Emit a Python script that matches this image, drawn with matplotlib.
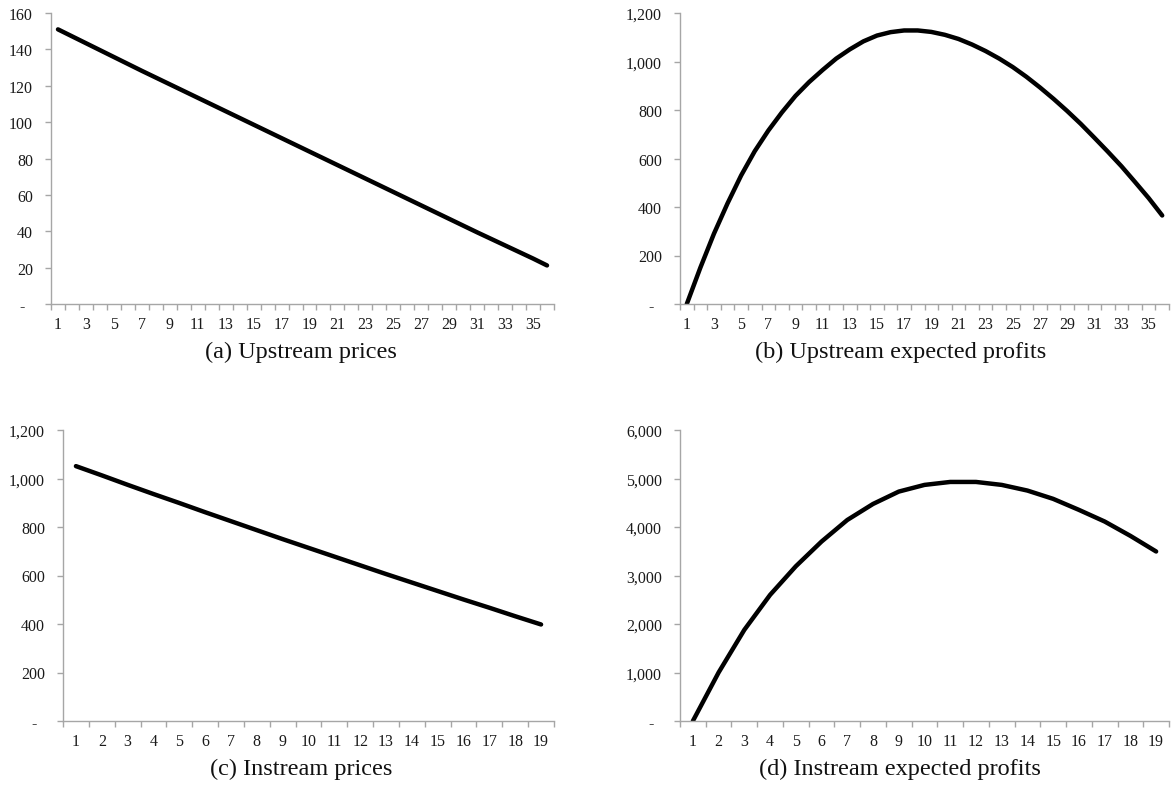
import numpy as np
import matplotlib
matplotlib.use("Agg")
import matplotlib.pyplot as plt
from matplotlib.ticker import FixedLocator, FuncFormatter

# ---------------- data ----------------
upstream_periods = list(range(1, 37))
upstream_prices = [151.0, 147.2, 143.4, 139.6, 135.8, 132.0, 128.2, 124.5, 120.8,
                   117.1, 113.4, 109.7, 106.0, 102.3, 98.6, 94.9, 91.2, 87.5,
                   83.8, 80.1, 76.4, 72.7, 69.0, 65.3, 61.6, 57.9, 54.2, 50.5,
                   46.8, 43.1, 39.4, 35.8, 32.2, 28.6, 25.0, 21.2]
upstream_profits = [0, 150, 290, 415, 530, 630, 715, 790, 858, 915, 965, 1012,
                    1050, 1083, 1107, 1121, 1128, 1128, 1122, 1110, 1093, 1070,
                    1043, 1012, 977, 937, 893, 846, 796, 743, 686, 628, 568,
                    503, 437, 365]

instream_periods = list(range(1, 20))
instream_prices = [1051, 1013, 974, 936, 899, 861, 824, 787, 750, 714, 678, 642,
                   606, 571, 536, 501, 467, 432, 398]
instream_profits = [0, 1000, 1880, 2600, 3190, 3700, 4145, 4475, 4730, 4868,
                    4929, 4929, 4868, 4751, 4580, 4353, 4113, 3817, 3495]

captions = ["(a) Upstream prices", "(b) Upstream expected profits",
            "(c) Instream prices", "(d) Instream expected profits"]

# ---------------- layout ----------------
W, H = 1172, 803
fig = plt.figure(figsize=(W / 100, H / 100), dpi=100)

def ax_at(left, right, top, bottom):
    return fig.add_axes([left / W, 1 - bottom / H, (right - left) / W, (bottom - top) / H])

tick_font = "Liberation Serif"
grey = "#a6a6a6"

def fmt_y(v, pos):
    if abs(v) < 1e-9:
        return "-  "
    return f"{v:,.0f}"

def style(ax, x, y, ymax, ystep, label_step):
    n = len(x)
    ax.plot(x, y, color="black", lw=3.2, solid_capstyle="round", solid_joinstyle="round")
    ax.set_xlim(0.5, n + 0.5)
    ax.set_ylim(0, ymax)
    for s in ["top", "right"]:
        ax.spines[s].set_visible(False)
    for s in ["left", "bottom"]:
        ax.spines[s].set_color(grey)
        ax.spines[s].set_linewidth(1.0)
    # category boundary ticks
    ax.xaxis.set_major_locator(FixedLocator(np.arange(0.5, n + 1, 1)))
    ax.xaxis.set_major_formatter(FuncFormatter(lambda v, p: ""))
    ax.xaxis.set_minor_locator(FixedLocator(x[::label_step]))
    ax.xaxis.set_minor_formatter(FuncFormatter(lambda v, p: f"{int(round(v))}"))
    ax.tick_params(axis="x", which="major", length=4, width=1, color=grey, direction="out")
    ax.tick_params(axis="x", which="minor", length=0, pad=9, labelsize=11.5, labelcolor="#1a1a1a")
    ax.set_yticks(np.arange(0, ymax + ystep / 2, ystep))
    ax.yaxis.set_major_formatter(FuncFormatter(fmt_y))
    ax.tick_params(axis="y", length=4, width=1, color=grey, direction="out", pad=9,
                   labelsize=11.5, labelcolor="#1a1a1a")
    for lab in ax.get_xticklabels(minor=True) + ax.get_yticklabels():
        lab.set_fontfamily(tick_font)

ax_a = ax_at(51, 554, 14, 305)
style(ax_a, upstream_periods, upstream_prices, 160, 20, 2)
ax_b = ax_at(680, 1169, 14, 305)
style(ax_b, upstream_periods, upstream_profits, 1200, 200, 2)
ax_c = ax_at(63, 554, 431, 722)
style(ax_c, instream_periods, instream_prices, 1200, 200, 1)
ax_d = ax_at(680, 1169, 431, 722)
style(ax_d, instream_periods, instream_profits, 6000, 1000, 1)

cap_pos = [(301, 352), (901, 352), (301, 769), (900, 769)]
for (cx, cy), txt in zip(cap_pos, captions):
    fig.text(cx / W, 1 - cy / H, txt, ha="center", va="center",
             fontsize=17.5, family="Liberation Serif", color="#111111")

fig.savefig("out.png", dpi=100)
